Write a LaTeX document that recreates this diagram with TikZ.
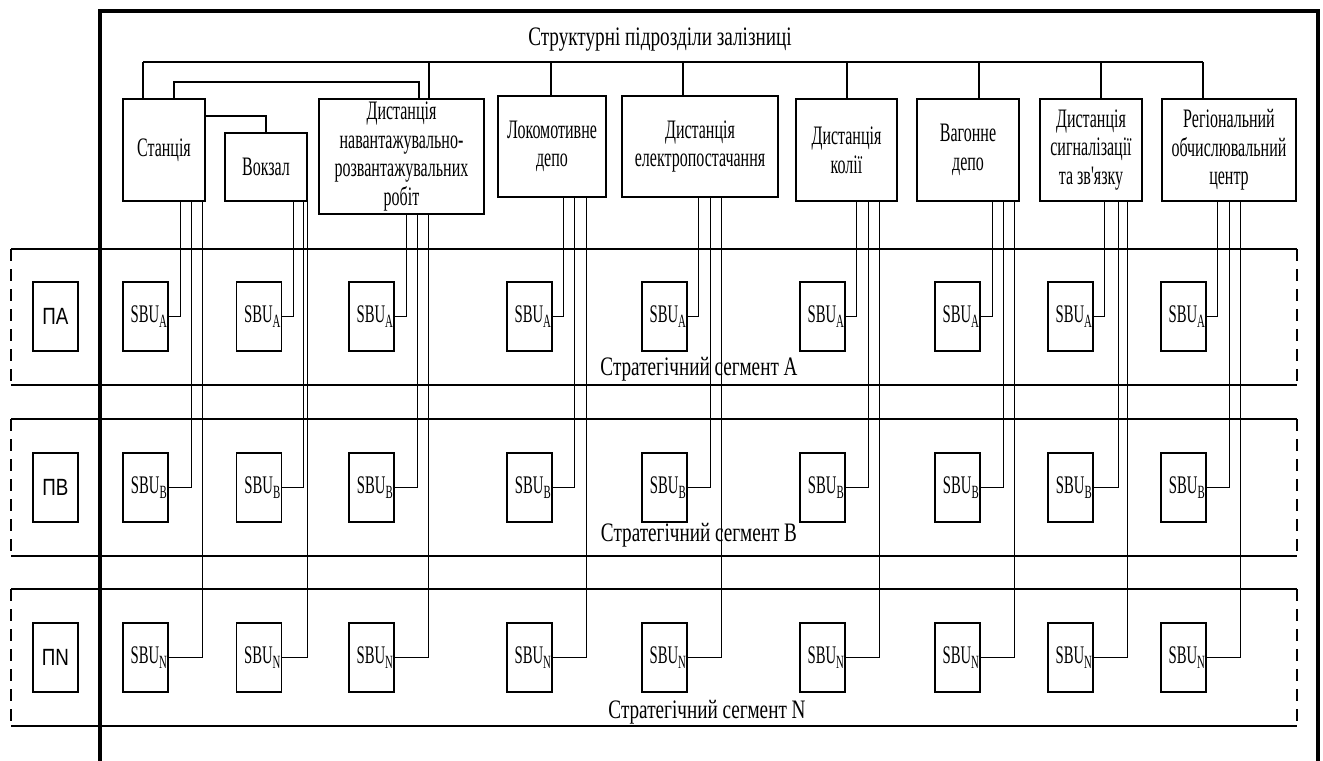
\documentclass[tikz,border=0pt]{standalone}
\usepackage{fontspec}
\setmainfont{Liberation Serif}
\newfontfamily\boxfont[FakeStretch=0.6]{Liberation Serif}
\newfontfamily\segfont[FakeStretch=0.72]{Liberation Serif}
\newfontfamily\sbufont[FakeStretch=0.58]{Liberation Serif}
\newfontfamily\pfont[FakeStretch=0.8]{Liberation Sans}
\newcommand{\sbu}[1]{\hspace*{5pt}SBU\raisebox{-3.5pt}{\fontsize{14}{14}\selectfont #1}}

\begin{document}
\begin{tikzpicture}[x=0.75pt, y=-0.75pt,
    unit/.style={draw, line width=1.1pt, inner sep=0pt, align=center,
        font=\boxfont\fontsize{20}{21.5}\selectfont},
    sbubox/.style={draw, line width=1pt, inner sep=0pt, minimum width=33.75pt,
        minimum height=51.75pt, font=\sbufont\fontsize{19}{20}\selectfont},
    pbox/.style={sbubox, font=\pfont\fontsize{17.6}{20}\selectfont},
    seglabel/.style={inner sep=0pt, font=\segfont\fontsize{20}{22}\selectfont},
    link/.style={line width=0.8pt},
    segline/.style={line width=1pt}]
    \useasboundingbox (0,0) rectangle (1323,760);

    % Outer frame
    \draw[line width=3pt] (100,775) -- (100,11) -- (1318,11) -- (1318,775);

    % Title and structural units
    \node[seglabel] (title) at (660,40) {Структурні підрозділи залізниці};
    \node[unit, minimum width=61.5pt, minimum height=76.5pt] (stan) at (164,150) {Станція};
    \node[unit, minimum width=61.5pt, minimum height=51pt] (vokz) at (266,167) {Вокзал};
    \node[unit, minimum width=123.75pt, minimum height=86.25pt] (nrr) at (401.5,156.5)
        {Дистанція\\навантажувально-\\розвантажувальних\\робіт};
    \node[unit, minimum width=81pt, minimum height=75.75pt] (loko) at (552,146.5) {Локомотивне\\депо};
    \node[unit, minimum width=117pt, minimum height=75.75pt] (elek) at (700,146.5)
        {Дистанція\\електропостачання};
    \node[unit, minimum width=75.75pt, minimum height=76.5pt] (kol) at (846.5,150) {Дистанція\\колії};
    \node[unit, minimum width=76.5pt, minimum height=76.5pt] (vag) at (968,150) {Вагонне\\депо};
    \node[unit, minimum width=76.5pt, minimum height=76.5pt] (sig) at (1091,150)
        {Дистанція\\сигналізації\\та зв\char39язку};
    \node[unit, minimum width=100.5pt, minimum height=76.5pt] (reg) at (1229,150)
        {Регіональний\\обчислювальний\\центр};

    % Common bus above the units
    \foreach \x/\n in {143/stan, 429/nrr, 551/loko, 683/elek, 847/kol, 979/vag, 1101/sig, 1203/reg} {
        \coordinate (d\n) at (\x,62);
        \draw[link] (d\n) -- (d\n |- \n.north);
    }
    \draw[link] (dstan) -- (dreg);

    % Links between station, terminal and loading works
    \coordinate (k1) at (174,82);
    \coordinate (k2) at (419,82);
    \draw[link] (k1 |- stan.north) -- (k1) -- (k2) -- (k2 |- nrr.north);
    \draw[link] (stan.east |- 0,116) -| (vokz.north);

    % Strategic segments
    \foreach \t/\b in {249/385, 419/556, 589/726} {
        \draw[segline] (11,\t) -- (1297,\t) (11,\b) -- (1297,\b);
        \draw[segline, dash pattern=on 9pt off 6pt] (11,\t) -- (11,\b) (1297,\t) -- (1297,\b);
    }
    \node[seglabel] (segA) at (699,369) {Стратегічний сегмент A};
    \node[seglabel] (segB) at (699,535) {Стратегічний сегмент B};
    \node[seglabel] (segN) at (707,712) {Стратегічний сегмент N};

    \node[pbox] (pA) at (55.5,316.5) {ПА};
    \node[pbox] (pB) at (55.5,487.5) {ПВ};
    \node[pbox] (pN) at (55.5,657.5) {ПN};

    % SBU boxes
    \foreach \i/\x in {1/145.5, 2/259, 3/371.5, 4/529.5, 5/664.5, 6/822.5, 7/957.5, 8/1070.5, 9/1183.5} {
        \node[sbubox] (sbuA\i) at (\x,316.5) {\sbu{A}};
        \node[sbubox] (sbuB\i) at (\x,487.5) {\sbu{B}};
        \node[sbubox] (sbuN\i) at (\x,657.5) {\sbu{N}};
    }

    % Links from SBU to units
    \foreach \i/\n/\da/\db/\dn in {1/stan/12/23/34, 2/vokz/11/21/25, 3/nrr/12/23/34,
            4/loko/11/22/34, 5/elek/11/23/34, 6/kol/11/23/34, 7/vag/12/23/34,
            8/sig/11/25/34, 9/reg/11/23/34} {
        \draw[link] (sbuA\i.east) -- ++(\da,0) coordinate (t) -- (t |- \n.south);
        \draw[link] (sbuB\i.east) -- ++(\db,0) coordinate (t) -- (t |- \n.south);
        \draw[link] (sbuN\i.east) -- ++(\dn,0) coordinate (t) -- (t |- \n.south);
    }
\end{tikzpicture}
\end{document}
